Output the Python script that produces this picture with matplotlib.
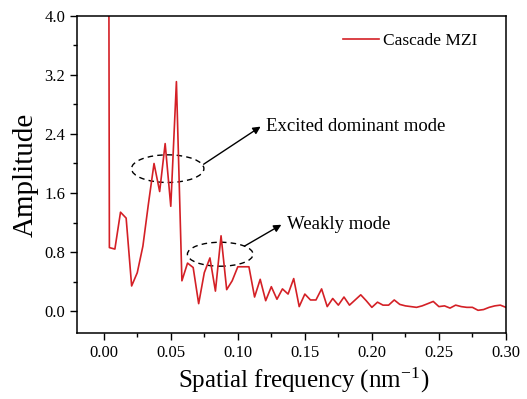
import matplotlib
matplotlib.use("Agg")
import matplotlib.pyplot as plt
from matplotlib.patches import Ellipse
from matplotlib.ticker import MultipleLocator

# spatial frequency (nm^-1) and FFT amplitude
freq = [0.0000, 0.0042, 0.0083, 0.0125, 0.0167, 0.0208, 0.0250, 0.0292, 0.0333, 0.0375,
        0.0417, 0.0458, 0.0500, 0.0542, 0.0583, 0.0625, 0.0667, 0.0708, 0.0750, 0.0792,
        0.0833, 0.0875, 0.0917, 0.0958, 0.1000, 0.1042, 0.1083, 0.1125, 0.1167, 0.1208,
        0.1250, 0.1292, 0.1333, 0.1375, 0.1417, 0.1458, 0.1500, 0.1542, 0.1583, 0.1625,
        0.1667, 0.1708, 0.1750, 0.1792, 0.1833, 0.1875, 0.1917, 0.1958, 0.2000, 0.2042,
        0.2083, 0.2125, 0.2167, 0.2208, 0.2250, 0.2292, 0.2333, 0.2375, 0.2417, 0.2458,
        0.2500, 0.2542, 0.2583, 0.2625, 0.2667, 0.2708, 0.2750, 0.2792, 0.2833, 0.2875,
        0.2917, 0.2958, 0.3000]
amp = [40.0, 0.86, 0.84, 1.34, 1.26, 0.34, 0.52, 0.88, 1.45, 2.00,
       1.62, 2.27, 1.42, 3.11, 0.41, 0.65, 0.59, 0.10, 0.52, 0.72,
       0.27, 1.02, 0.29, 0.41, 0.60, 0.60, 0.60, 0.19, 0.43, 0.14,
       0.33, 0.16, 0.30, 0.23, 0.44, 0.06, 0.23, 0.15, 0.15, 0.30,
       0.06, 0.17, 0.08, 0.19, 0.08, 0.15, 0.22, 0.14, 0.05, 0.12,
       0.08, 0.08, 0.15, 0.09, 0.07, 0.06, 0.05, 0.07, 0.10, 0.13,
       0.06, 0.07, 0.04, 0.08, 0.06, 0.05, 0.05, 0.01, 0.02, 0.05,
       0.07, 0.08, 0.05]

series_label = "Cascade MZI"
notes = ["Excited dominant mode", "Weakly mode"]
# ellipse centre (f, A), width, height ; arrow tail, arrow head
ell_specs = [((0.0477, 1.93), 0.054, 0.375), ((0.0869, 0.77), 0.049, 0.325)]
arrow_tails = [(0.0745, 1.99), (0.105, 0.88)]
arrow_heads = [(0.117, 2.50), (0.1325, 1.17)]

plt.rcParams.update({"font.family": "Liberation Serif", "mathtext.fontset": "stix"})
fig = plt.figure(figsize=(5.27, 3.99), dpi=100)
ax = fig.add_axes([0.146, 0.165, 0.814, 0.795])

ax.plot(freq, amp, color="#d42026", lw=1.2, label=series_label)

for (c, w, h) in ell_specs:
    ax.add_patch(Ellipse(c, w, h, fill=False, ls=(0, (4, 3)), lw=1.0, ec="black"))
for tail, head, txt in zip(arrow_tails, arrow_heads, notes):
    ax.annotate("", xy=head, xytext=tail,
                arrowprops=dict(arrowstyle="-|>", color="black", lw=1.0, mutation_scale=11,
                                shrinkA=0, shrinkB=0))
    ax.text(head[0] + 0.004, head[1], txt, fontsize=13.5, va="center", ha="left")

ax.set_xlim(-0.02, 0.30)
ax.set_ylim(-0.3, 4.0)
ax.xaxis.set_major_locator(MultipleLocator(0.05))
ax.xaxis.set_minor_locator(MultipleLocator(0.025))
ax.yaxis.set_major_locator(MultipleLocator(0.8))
ax.yaxis.set_minor_locator(MultipleLocator(0.4))
ax.xaxis.set_major_formatter(plt.FormatStrFormatter("%.2f"))
ax.yaxis.set_major_formatter(plt.FormatStrFormatter("%.1f"))
ax.tick_params(which="both", direction="out", top=False, right=False, labelsize=12, width=1.0)
ax.tick_params(which="major", length=5)
ax.tick_params(which="minor", length=3)
for s in ax.spines.values():
    s.set_linewidth(1.1)

ax.set_xlabel("Spatial frequency (nm$^{\\mathregular{-1}}$)", fontsize=18, labelpad=3,
              x=0.528, ha="center")
ax.set_ylabel("Amplitude", fontsize=21, labelpad=4)
ax.legend(loc="center left", frameon=False, fontsize=12.5, handlelength=2.1,
          handletextpad=0.2, bbox_to_anchor=(0.583, 0.922))

fig.savefig("out.png", dpi=100)
